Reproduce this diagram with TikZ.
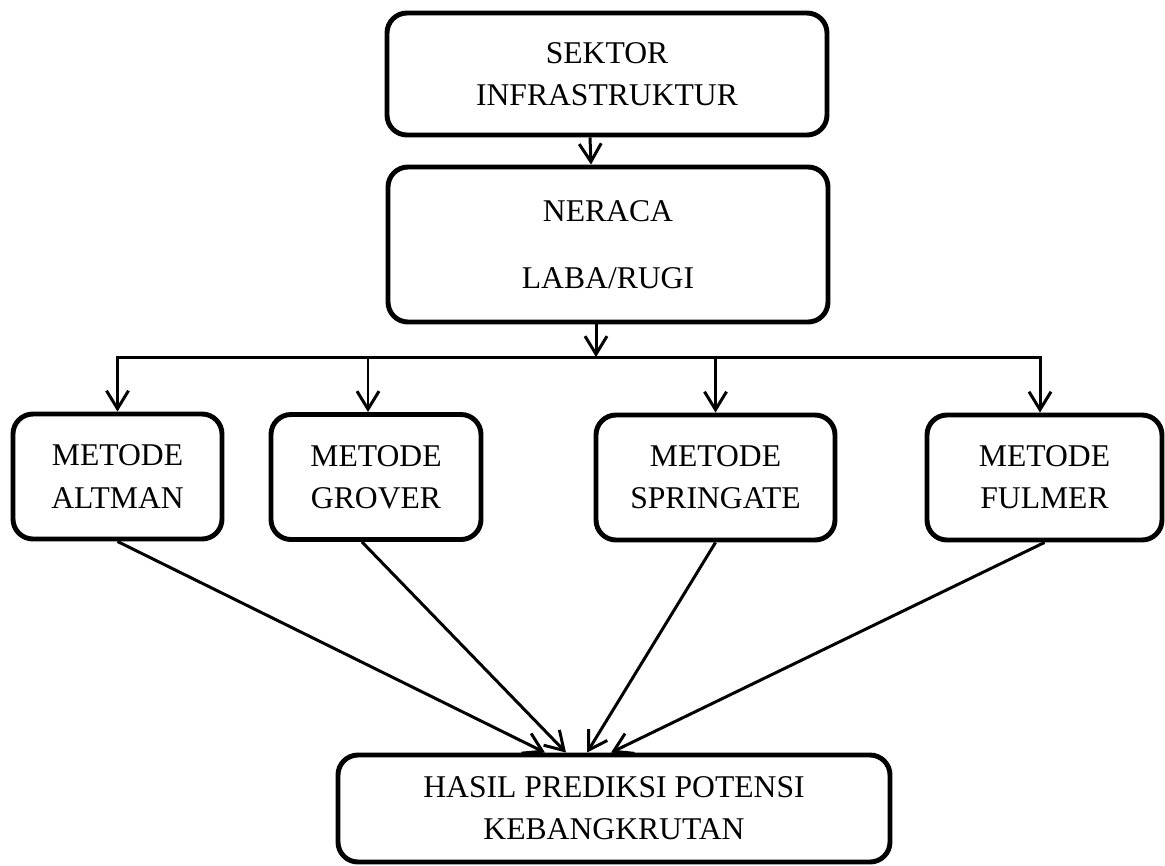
\documentclass[tikz,border=0pt]{standalone}
\usepackage{fontspec}
\setmainfont{Liberation Serif}
\usetikzlibrary{arrows.meta,positioning}

\begin{document}
\begin{tikzpicture}[
  x=0.2mm, y=-0.2mm,
  font=\fontsize{18}{24}\selectfont,
  >={Straight Barb[length=3.6mm,width=4.4mm]},
  flow/.style={->, line width=1.7pt},
  stage/.style={
    draw,
    line width=2.8pt,
    rounded corners=4mm,
    minimum width=88mm,
    inner sep=0pt,
    align=center
  },
  method/.style={
    draw,
    line width=2.8pt,
    rounded corners=4mm,
    minimum height=25mm,
    inner sep=0pt,
    align=center
  },
  outcome/.style={
    draw,
    line width=2.8pt,
    rounded corners=4mm,
    minimum width=110.4mm,
    minimum height=21.4mm,
    inner sep=0pt,
    align=center
  }
]
\useasboundingbox (0,0) rectangle (1165,865);

\node[stage, minimum height=24.4mm] (sector) at (607,74) {SEKTOR\\INFRASTRUKTUR};
\node[stage, minimum height=31mm] (report) at (608,244.5) {NERACA\\[14.5pt]LABA/RUGI};
\coordinate (bus) at (596,357);

\node[method, minimum width=41.8mm] (altman) at (117.5,476.5) {METODE\\ALTMAN};
\node[method, minimum width=42mm] (grover) at (376,477) {METODE\\GROVER};
\node[method, minimum width=47.8mm] (springate) at (715.5,477.5) {METODE\\SPRINGATE};
\node[method, minimum width=47mm] (fulmer) at (1044.5,477.5) {METODE\\FULMER};

\node[outcome] (result) at (614,808.5) {HASIL PREDIKSI POTENSI\\KEBANGKRUTAN};

\draw[flow] ([xshift=-3.4mm]sector.south) -- ([xshift=-3.4mm]report.north);
\draw[flow] (report.south -| bus) -- (bus);
\draw[<->, line width=1.7pt] (altman.north) -- (altman.north |- bus)
  -- ([xshift=-0.9mm]fulmer.north |- bus) -- ([xshift=-0.9mm]fulmer.north);
\draw[flow] ([xshift=-1.6mm]grover.north |- bus) -- ([xshift=-1.6mm]grover.north);
\draw[flow] (springate.north |- bus) -- (springate.north);

\draw[flow] (altman.south) -- ([xshift=-13.8mm]result.north);
\draw[flow] ([xshift=-2.8mm]grover.south) -- ([xshift=-9.6mm]result.north);
\draw[flow] (springate.south) -- ([xshift=-5.4mm]result.north);
\draw[flow] (fulmer.south) -- ([xshift=-0.6mm]result.north);

\end{tikzpicture}
\end{document}
